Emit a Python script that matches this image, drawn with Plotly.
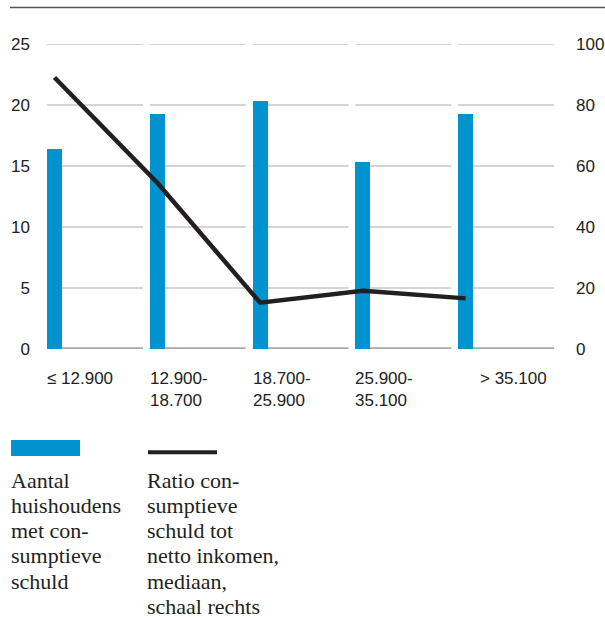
import plotly.graph_objects as go

# Income classes (net income, euro)
income_labels = ["≤ 12.900", "12.900-<br>18.700", "18.700-<br>25.900", "25.900-<br>35.100", "> 35.100"]
# Number of households with consumer debt (left scale)
households = [16.4, 19.3, 20.3, 15.3, 19.3]
# Ratio consumer debt to net income, median (right scale)
debt_ratio = [89.0, 54.5, 15.2, 19.1, 16.6]

left_ticks = [0, 5, 10, 15, 20, 25]
right_ticks = [0, 20, 40, 60, 80, 100]

legend_bar_lines = ["Aantal", "huishoudens", "met con-", "sumptieve", "schuld"]
legend_line_lines = ["Ratio con-", "sumptieve", "schuld tot", "netto inkomen,", "mediaan,", "schaal rechts"]

BLUE = "#0093d0"
INK = "#231f20"
GRID = "#c6c6c6"
BASE = "#a7a9ac"

W, H = 605, 618
L, R, T, B = 47, 44, 44, 269
PW, PH = W - L - R, H - T - B

BAR_W = 0.146      # bar width as fraction of a category slot
SEG = 0.933        # length of each gridline segment within a slot


def px(xp):
    return (xp - L) / PW


def py(yp):
    return (H - B - yp) / PH


n = len(households)
idx = list(range(n))

fig = go.Figure()
fig.add_trace(go.Bar(
    x=idx, y=households, width=BAR_W, offset=0,
    marker=dict(color=BLUE, line=dict(width=0)),
    showlegend=False, hoverinfo="skip",
))
fig.add_trace(go.Scatter(
    x=[i + BAR_W / 2 for i in idx], y=debt_ratio, yaxis="y2",
    mode="lines", line=dict(color=INK, width=4.5),
    showlegend=False, hoverinfo="skip",
))

shapes = []
# segmented horizontal gridlines, one segment per income class
for v in left_ticks:
    for i in idx:
        shapes.append(dict(
            type="line", xref="x", yref="y", x0=i, x1=i + SEG, y0=v, y1=v,
            line=dict(color=BASE if v == 0 else GRID, width=3.5 if v == 0 else 1.6),
            layer="below",
        ))
# rule across the top
shapes.append(dict(type="line", xref="paper", yref="paper",
                   x0=px(10), x1=px(605), y0=py(7.5), y1=py(7.5),
                   line=dict(color="#555555", width=1.6)))
# legend keys
shapes.append(dict(type="rect", xref="paper", yref="paper",
                   x0=px(11), x1=px(80), y0=py(456), y1=py(440),
                   fillcolor=BLUE, line=dict(width=0)))
shapes.append(dict(type="line", xref="paper", yref="paper",
                   x0=px(148), x1=px(217), y0=py(452.3), y1=py(452.3),
                   line=dict(color=INK, width=4)))

annotations = []
# category labels under each slot
for i, lab in enumerate(income_labels):
    annotations.append(dict(
        x=i, y=0, xref="x", yref="y", text=lab, showarrow=False,
        xanchor="left", yanchor="top", align="left", yshift=-18,
        xshift=20 if i == n - 1 else -2,
        font=dict(family="Liberation Sans, Arial", size=17, color="#222222"),
    ))

serif = dict(family="Liberation Serif, Times New Roman, serif", size=22, color=INK)
base0, step = 489.3, 25.2
for k, line in enumerate(legend_bar_lines):
    annotations.append(dict(x=px(10), y=py(base0 + k * step - 9), xref="paper", yref="paper",
                            text=line, showarrow=False, xanchor="left", yanchor="middle",
                            font=serif, borderpad=0))
for k, line in enumerate(legend_line_lines):
    annotations.append(dict(x=px(146), y=py(base0 + k * step - 9), xref="paper", yref="paper",
                            text=line, showarrow=False, xanchor="left", yanchor="middle",
                            font=serif, borderpad=0))

tick_font = dict(family="Liberation Sans, Arial", size=17, color="#222222")
fig.update_layout(
    width=W, height=H,
    margin=dict(l=L, r=R, t=T, b=B, pad=0, autoexpand=False),
    paper_bgcolor="white", plot_bgcolor="white",
    xaxis=dict(range=[0, n], visible=False, fixedrange=True, automargin=False),
    yaxis=dict(range=[0, 25], tickvals=left_ticks, ticktext=[str(v) for v in left_ticks],
               showgrid=False, zeroline=False, showline=False, ticks="",
               ticklabelstandoff=16, tickfont=tick_font, automargin=False),
    yaxis2=dict(range=[0, 100], overlaying="y", side="right",
                tickvals=right_ticks, ticktext=[str(v) for v in right_ticks],
                showgrid=False, zeroline=False, showline=False, ticks="",
                ticklabelstandoff=14, tickfont=tick_font, automargin=False),
    shapes=shapes,
    annotations=annotations,
    bargap=0,
)

fig.write_html("out.html")
